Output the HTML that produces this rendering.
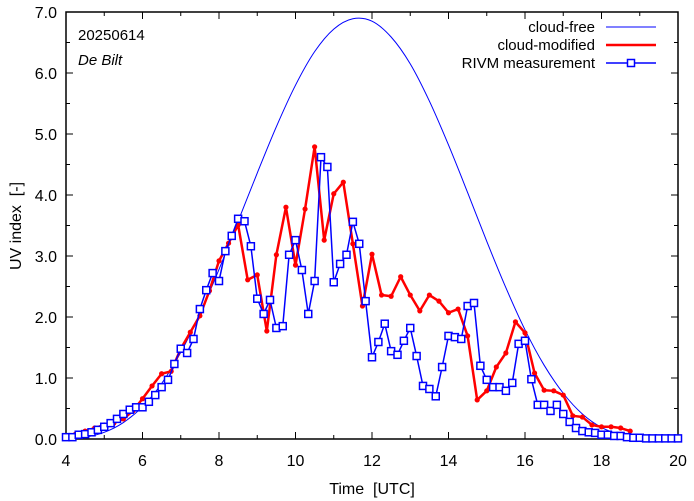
<!DOCTYPE html>
<html><head><meta charset="utf-8"><style>
body{margin:0;background:#fff}
svg{display:block;font-family:"Liberation Sans",sans-serif}
text{white-space:pre}
</style></head><body>
<svg id="chart" width="694" height="501">
<g id="axes"></g><g id="series"></g>
<text x="78" y="40" font-size="15">20250614</text>
<text x="78" y="65" font-size="15" font-style="italic">De Bilt</text>
<text x="372" y="494" font-size="16" text-anchor="middle">Time  [UTC]</text>
<text transform="translate(21,226) rotate(-90)" font-size="16" text-anchor="middle">UV index  [-]</text>
<g>
<g><text x="595" y="32" font-size="15" text-anchor="end">cloud-free</text><line x1="606" y1="27" x2="656" y2="27" stroke="#0000ff" stroke-width="1"/></g>
<g><text x="595" y="50" font-size="15" text-anchor="end" fill="#000">cloud-modified</text><line x1="606" y1="45" x2="656" y2="45" stroke="#ff0000" stroke-width="2.5"/></g>
<g><text x="595" y="68" font-size="15" text-anchor="end">RIVM measurement</text><line x1="606" y1="63" x2="656" y2="63" stroke="#0000ff" stroke-width="1.5"/><rect x="627.5" y="59.5" width="7" height="7" fill="#fff" stroke="#0000ff" stroke-width="1.5"/></g>
</g>
</svg>
<script>
const xTicks=[4,6,8,10,12,14,16,18,20];
const yTicks=[0,1,2,3,4,5,6,7];
const clearT=[4,4.5,5,5.5,6,6.5,7,7.5,8,8.5,9,9.5,10,10.5,11,11.5,12,12.5,13,13.5,14,14.5,15,15.5,16,16.5,17,17.5,18,18.5,19,19.5,20];
const clearV=[0.005,0.03,0.11,0.27,0.53,0.91,1.42,2.05,2.78,3.57,4.36,5.12,5.80,6.35,6.72,6.89,6.85,6.59,6.15,5.54,4.82,4.04,3.24,2.48,1.79,1.21,0.75,0.41,0.19,0.07,0.02,0.003,0];
const redStart=4.25, redStep=0.25;
const redV=[0.08,0.13,0.18,0.23,0.26,0.33,0.46,0.66,0.87,1.07,1.11,1.48,1.75,2.02,2.43,2.92,3.21,3.51,2.61,2.69,1.77,3.02,3.80,2.85,3.77,4.79,3.26,4.02,4.21,3.20,2.18,3.03,2.36,2.34,2.66,2.36,2.10,2.36,2.26,2.07,2.13,1.69,0.64,0.79,1.18,1.41,1.92,1.74,1.08,0.80,0.79,0.72,0.38,0.36,0.23,0.20,0.20,0.18,0.13];
const measStart=4, measStep=1/6;
const measV=[0.03,0.03,0.07,0.08,0.11,0.15,0.20,0.26,0.33,0.41,
0.48,0.52,0.52,0.61,0.72,0.85,0.97,1.23,1.48,1.41,
1.64,2.13,2.44,2.72,2.59,3.08,3.33,3.61,3.57,3.16,
2.30,2.05,2.28,1.82,1.85,3.02,3.26,2.77,2.05,2.59,
4.62,4.46,2.57,2.87,3.02,3.56,3.20,2.26,1.34,1.59,
1.89,1.44,1.38,1.61,1.82,1.36,0.87,0.82,0.70,1.18,
1.69,1.67,1.64,2.18,2.23,1.20,0.97,0.85,0.85,0.79,
0.92,1.56,1.61,0.98,0.56,0.56,0.46,0.56,0.41,0.28,
0.18,0.13,0.11,0.10,0.07,0.07,0.05,0.05,0.03,0.02,
0.02,0.01,0.01,0.01,0.01,0.01,0.01];
const L=66,R=678,T=12,B=439;
const X=t=>L+(t-4)/16*(R-L);
const Y=v=>B-v/7*(B-T);
const NS='http://www.w3.org/2000/svg';
const axes=document.getElementById('axes'), ser=document.getElementById('series');
function mk(tag,attrs,parent){const e=document.createElementNS(NS,tag);for(const k in attrs)e.setAttribute(k,attrs[k]);parent.appendChild(e);return e;}
for(let h=4;h<=20;h++){const x=X(h);const len=(h%2===0)?7:4;
 mk('line',{x1:x,y1:B,x2:x,y2:B-len,stroke:'#000','stroke-width':1},axes);
 mk('line',{x1:x,y1:T,x2:x,y2:T+len,stroke:'#000','stroke-width':1},axes);}
for(let i=0;i<=14;i++){const v=i/2,y=Y(v);const len=(i%2===0)?7:4;
 mk('line',{x1:L,y1:y,x2:L+len,y2:y,stroke:'#000','stroke-width':1},axes);
 mk('line',{x1:R,y1:y,x2:R-len,y2:y,stroke:'#000','stroke-width':1},axes);}
xTicks.forEach(h=>{const t=mk('text',{x:X(h),y:466,'font-size':16,'text-anchor':'middle'},axes);t.textContent=String(h);
 
 });
yTicks.forEach(v=>{const t=mk('text',{x:57,y:Y(v)+6,'font-size':16,'text-anchor':'end'},axes);t.textContent=v.toFixed(1);
 
 });
const frame=mk('rect',{x:L,y:T,width:R-L,height:B-T,fill:'none',stroke:'#000','stroke-width':1.5},axes);


const cp=clearT.map((t,i)=>[X(t),Y(clearV[i])]);
let d='M'+cp[0][0]+','+cp[0][1];
for(let i=0;i<cp.length-1;i++){const p0=cp[Math.max(0,i-1)],p1=cp[i],p2=cp[i+1],p3=cp[Math.min(cp.length-1,i+2)];
 d+=` C${p1[0]+(p2[0]-p0[0])/6},${p1[1]+(p2[1]-p0[1])/6} ${p2[0]-(p3[0]-p1[0])/6},${p2[1]-(p3[1]-p1[1])/6} ${p2[0]},${p2[1]}`;}
const cf=mk('path',{d:d,fill:'none',stroke:'#0000ff','stroke-width':1},ser);


const rp=redV.map((v,i)=>X(redStart+i*redStep)+','+Y(v)).join(' ');
const rl=mk('polyline',{points:rp,fill:'none',stroke:'#ff0000','stroke-width':2.5,'stroke-linejoin':'round'},ser);


redV.forEach((v,i)=>{const c=mk('circle',{cx:X(redStart+i*redStep),cy:Y(v),r:2.6,fill:'#ff0000'},ser);
 
 });
const mp=measV.map((v,i)=>X(measStart+i*measStep)+','+Y(v)).join(' ');
const ml=mk('polyline',{points:mp,fill:'none',stroke:'#0000ff','stroke-width':1.5},ser);


measV.forEach((v,i)=>{const r=mk('rect',{x:X(measStart+i*measStep)-3.5,y:Y(v)-3.5,width:7,height:7,fill:'#fff',stroke:'#0000ff','stroke-width':1.5},ser);
 
 });
</script>
</body></html>
